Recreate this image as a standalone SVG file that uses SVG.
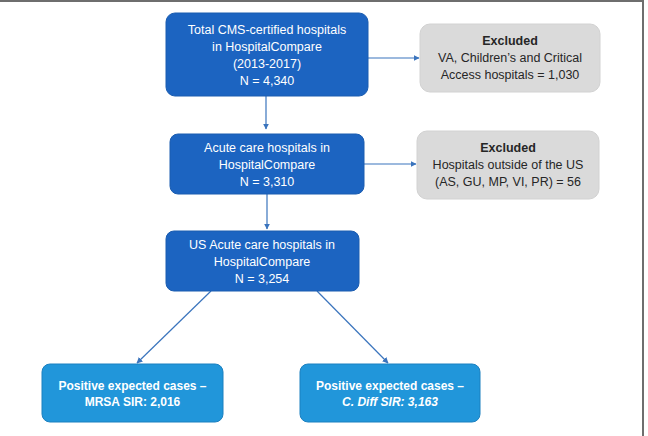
<svg xmlns="http://www.w3.org/2000/svg" width="648" height="436" viewBox="0 0 648 436">
<style>
.blue{fill:#1c64c1;stroke:#1a5cb0;stroke-width:1}
.lblue{fill:#2196da;stroke:#1b80c0;stroke-width:1}
.gray{fill:#dadada;stroke:#d2d2d2;stroke-width:1}
.wt{font-family:"Liberation Sans",Arial,sans-serif;font-size:12.5px;fill:#ffffff;text-anchor:middle}
.gt{font-family:"Liberation Sans",Arial,sans-serif;font-size:12.5px;fill:#262626;text-anchor:middle}
.b{font-weight:bold}
.conn{stroke:#3a74bd;stroke-width:1.2;fill:none;marker-end:url(#ah)}
</style>
<defs>
<marker id="ah" viewBox="0 0 10 10" refX="9" refY="5" markerWidth="6" markerHeight="6" orient="auto" markerUnits="userSpaceOnUse">
<path d="M0,0 L10,5 L0,10 z" fill="#3a74bd"/>
</marker>
</defs>
<rect x="0" y="0" width="648" height="436" fill="#ffffff"/>
<line x1="0" y1="1" x2="644" y2="1" stroke="#6e6e6e" stroke-width="2"/>
<line x1="643" y1="0" x2="643" y2="436" stroke="#6e6e6e" stroke-width="2"/>
<g id="connectors">
<line class="conn" x1="368" y1="58" x2="419" y2="58"/>
<line class="conn" x1="266" y1="96" x2="266" y2="129"/>
<line class="conn" x1="364" y1="164" x2="416" y2="164"/>
<line class="conn" x1="267" y1="194" x2="267" y2="229"/>
<line class="conn" x1="211" y1="291" x2="137" y2="363"/>
<line class="conn" x1="317" y1="291" x2="388" y2="363"/>
</g>
<g id="total">
<rect class="blue" x="166" y="13" width="202" height="83" rx="9"/>
<text class="wt" x="267" y="33.5">Total CMS-certified hospitals</text>
<text class="wt" x="267" y="50.5">in HospitalCompare</text>
<text class="wt" x="267" y="67.5">(2013-2017)</text>
<text class="wt" x="267" y="84.5">N = 4,340</text>
</g>
<g id="excluded1">
<rect class="gray" x="420" y="24" width="180" height="68" rx="10"/>
<text class="gt b" x="510" y="44.5">Excluded</text>
<text class="gt" x="510" y="62">VA, Children’s and Critical</text>
<text class="gt" x="510" y="79">Access hospitals = 1,030</text>
</g>
<g id="acute">
<rect class="blue" x="170" y="134" width="194" height="60" rx="8"/>
<text class="wt" x="267" y="151.5">Acute care hospitals in</text>
<text class="wt" x="267" y="168.5">HospitalCompare</text>
<text class="wt" x="267" y="185.5">N = 3,310</text>
</g>
<g id="excluded2">
<rect class="gray" x="417" y="131" width="182" height="68" rx="10"/>
<text class="gt b" x="508" y="151.5">Excluded</text>
<text class="gt" x="508" y="168.5">Hospitals outside of the US</text>
<text class="gt" x="508" y="185.5">(AS, GU, MP, VI, PR) = 56</text>
</g>
<g id="usacute">
<rect class="blue" x="166" y="231" width="193" height="60" rx="8"/>
<text class="wt" x="262" y="248.5">US Acute care hospitals in</text>
<text class="wt" x="262" y="265.5">HospitalCompare</text>
<text class="wt" x="262" y="282.5">N = 3,254</text>
</g>
<g id="mrsa">
<rect class="lblue" x="42" y="364" width="181" height="58" rx="8"/>
<text class="wt b" x="132.5" y="389.5" style="font-size:12px">Positive expected cases –</text>
<text class="wt b" x="132.5" y="405.5" style="font-size:12px">MRSA SIR: 2,016</text>
</g>
<g id="cdiff">
<rect class="lblue" x="300" y="364" width="180" height="58" rx="8"/>
<text class="wt b" x="390" y="389.5" style="font-size:12px">Positive expected cases –</text>
<text class="wt b" x="390" y="405.5" style="font-size:12px"><tspan font-style="italic">C. Diff SIR: 3,163</tspan></text>
</g>
</svg>
